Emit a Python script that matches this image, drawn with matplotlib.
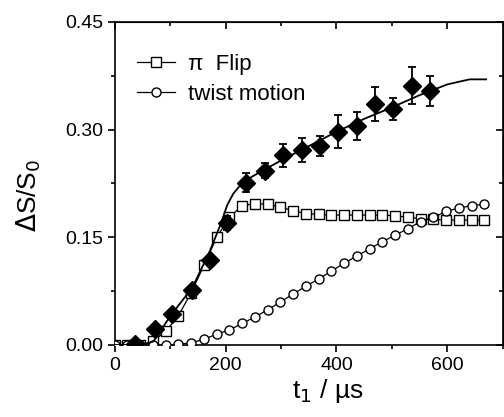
import matplotlib
matplotlib.use("Agg")
import matplotlib.pyplot as plt
from matplotlib.ticker import MultipleLocator

plt.rcParams['font.family'] = ['Liberation Sans', 'DejaVu Sans']

# Experimental data (filled diamonds with error bars)
exp_t = [36, 72, 103, 139, 171, 203, 237, 271, 304, 337, 371, 402, 437, 470, 502, 536, 569]
exp_y = [0.002, 0.022, 0.043, 0.077, 0.119, 0.170, 0.226, 0.243, 0.264, 0.272, 0.277,
         0.297, 0.305, 0.336, 0.329, 0.361, 0.354]
exp_err = [0.002, 0.003, 0.003, 0.004, 0.005, 0.010, 0.013, 0.010, 0.016, 0.017, 0.014,
           0.023, 0.019, 0.024, 0.015, 0.026, 0.021]

# Fit curve (solid line)
fit_t = [0, 50, 70, 100, 140, 170, 190, 203, 214, 226, 240, 260, 300, 350, 400, 450, 500, 550, 600, 640, 670]
fit_y = [0.0, 0.0, 0.005, 0.040, 0.080, 0.128, 0.166, 0.195, 0.211, 0.222, 0.231, 0.240, 0.257,
         0.277, 0.297, 0.315, 0.331, 0.348, 0.363, 0.370, 0.370]

# Simulations
sim_t = [0, 23, 46, 69, 92, 115, 138, 161, 184, 207, 230, 253, 276, 299, 322, 345, 368, 391,
         414, 437, 460, 483, 506, 529, 552, 575, 598, 621, 644, 667]
flip_y = [0.0, 0.0, 0.0, 0.005, 0.019, 0.041, 0.073, 0.111, 0.150, 0.178, 0.194, 0.197, 0.196,
          0.192, 0.187, 0.183, 0.182, 0.181, 0.181, 0.181, 0.181, 0.181, 0.180, 0.178, 0.176,
          0.175, 0.174, 0.174, 0.174, 0.174]
twist_y = [0.0, 0.0, 0.0, 0.0, 0.0, 0.001, 0.003, 0.008, 0.015, 0.021, 0.030, 0.039, 0.049,
           0.060, 0.071, 0.082, 0.092, 0.103, 0.114, 0.124, 0.134, 0.144, 0.153, 0.162, 0.172,
           0.178, 0.186, 0.191, 0.194, 0.196]

fig = plt.figure(figsize=(5.04, 4.17), dpi=100)
ax = fig.add_axes([0.2276, 0.1727, 0.770, 0.7747])

ax.plot(sim_t, flip_y, '-', color='black', lw=0.9, marker='s', ms=6.5,
        mfc='white', mec='black', mew=1.0, label='π  Flip', zorder=3)
ax.plot(sim_t, twist_y, '-', color='black', lw=0.9, marker='o', ms=6.5,
        mfc='white', mec='black', mew=1.0, label='twist motion', zorder=3)
ax.plot(fit_t, fit_y, '-', color='black', lw=1.3, zorder=4)
ax.errorbar(exp_t, exp_y, yerr=exp_err, fmt='D', color='black', ms=9,
            ecolor='black', elinewidth=1.3, capsize=3, capthick=1.3, zorder=5)

ax.set_xlim(0, 700)
ax.set_ylim(0, 0.45)
ax.xaxis.set_major_locator(MultipleLocator(200))
ax.xaxis.set_minor_locator(MultipleLocator(100))
ax.yaxis.set_major_locator(MultipleLocator(0.15))
ax.yaxis.set_minor_locator(MultipleLocator(0.075))
ax.yaxis.set_major_formatter(plt.FormatStrFormatter('%.2f'))

for s in ax.spines.values():
    s.set_linewidth(1.2)
ax.tick_params(which='both', direction='out', top=False, right=False, width=1.2, labelsize=14)
ax.tick_params(which='major', length=5)
ax.tick_params(which='minor', length=3)
ax2 = ax.secondary_xaxis('top')
ax2.xaxis.set_major_locator(MultipleLocator(200))
ax2.xaxis.set_minor_locator(MultipleLocator(100))
ax2.tick_params(which='both', direction='in', labeltop=False, width=1.2)
ax2.tick_params(which='major', length=5)
ax2.tick_params(which='minor', length=3)
ay2 = ax.secondary_yaxis('right')
ay2.yaxis.set_major_locator(MultipleLocator(0.15))
ay2.yaxis.set_minor_locator(MultipleLocator(0.075))
ay2.tick_params(which='both', direction='in', labelright=False, width=1.2)
ay2.tick_params(which='major', length=5)
ay2.tick_params(which='minor', length=3)

ax.set_xlabel('t$_1$ / µs', fontsize=19)
ax.xaxis.set_label_coords(0.55, -0.10)
ax.set_ylabel(r'$\Delta$S/S$_0$', fontsize=19)
ax.yaxis.set_label_coords(-0.185, 0.464)

leg = ax.legend(loc='upper left', frameon=False, fontsize=16, handlelength=1.7,
                borderaxespad=0.4, labelspacing=0.4, handletextpad=0.6,
                bbox_to_anchor=(0.012, 0.955))

fig.savefig('out.png', dpi=100)
